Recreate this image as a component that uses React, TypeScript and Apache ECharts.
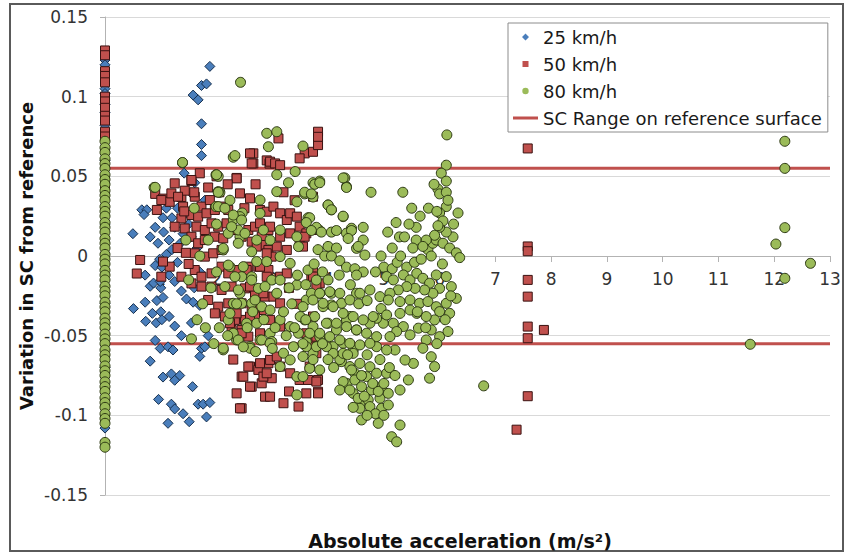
import { useEffect, useRef } from "react";
import * as echarts from "echarts";

// axis layout
const X_MIN = 0;
const X_MAX = 13;
const X_STEP = 1;
const Y_MIN = -0.15;
const Y_MAX = 0.15;
const Y_STEP = 0.05;

// SC range on the reference surface (+/-)
const scUpper = 0.055;
const scLower = -0.055;

// 25 km/h
const speed25: [number, number][] = [
  [0, 0.123], [0, 0.12], [0, 0.105], [0, 0.102], [0, 0.095], [0, 0.09], [0, 0.082], [0, 0.06],
  [0, 0.02], [0, -0.03], [0, -0.07], [0, -0.108],
  [1.88, 0.119], [1.73, 0.107], [1.82, 0.108], [1.58, 0.101], [1.67, 0.098], [1.73, 0.083],
  [1.73, 0.07], [1.73, 0.063], [1.42, 0.052], [1.61, 0.046], [1.59, 0.038], [1.79, 0.035],
  [0.66, 0.029], [0.75, 0.029], [0.7, 0.026], [1.04, 0.024], [1.3, 0.03], [1.45, 0.027],
  [1.5, 0.02], [0.5, 0.014], [0.81, 0.012], [0.9, 0.018], [0.95, 0.008], [1.05, 0.015],
  [1.15, 0.01], [1.2, 0.004], [1.1, 0.001], [1.25, 0.018], [0.98, -0.002], [1.35, 0.008],
  [1.4, 0.014], [1.3, -0.004], [0.9, -0.006], [1.02, -0.007], [0.72, -0.012], [1.15, -0.012],
  [1.25, -0.016], [0.81, -0.019], [1.0, -0.02], [0.87, -0.017], [0.99, -0.016], [1.37, -0.022],
  [1.46, -0.027], [1.58, -0.029], [1.7, -0.031], [0.51, -0.033], [0.72, -0.029], [0.93, -0.028],
  [1.04, -0.026], [0.85, -0.036], [1.0, -0.035], [1.15, -0.038], [0.73, -0.041], [0.92, -0.042],
  [1.02, -0.04], [1.25, -0.044], [1.55, -0.042], [1.37, -0.05], [0.9, -0.053], [0.99, -0.058],
  [1.13, -0.057], [1.22, -0.059], [1.73, -0.058], [1.79, -0.057], [1.7, -0.063], [0.81, -0.066],
  [1.04, -0.076], [1.19, -0.074], [1.34, -0.075], [1.25, -0.078], [1.57, -0.082], [0.96, -0.09],
  [1.19, -0.093], [1.25, -0.096], [1.4, -0.099], [1.51, -0.104], [1.13, -0.105], [1.67, -0.093],
  [1.76, -0.093], [1.88, -0.092], [1.82, -0.101], [1.6, -0.02], [1.7, -0.01], [1.65, 0.005],
  [1.55, 0.012], [1.85, -0.05], [1.2, 0.024], [1.1, 0.03],
];

// 50 km/h
const speed50: [number, number][] = [
  [0, 0.129], [0, 0.126], [0, 0.116], [0, 0.113], [0, 0.109], [0, 0.1], [0, 0.097], [0, 0.093],
  [0, 0.088], [0, 0.085], [0, 0.078], [0, 0.075], [0, 0.047], [0, 0.044],
  [0.63, -0.0025], [0.57, -0.011], [0.9, 0.039], [1.04, 0.036], [1.16, 0.034], [1.37, 0.037],
  [1.43, 0.041], [1.55, 0.047], [2.36, 0.049], [2.9, 0.06], [2.95, 0.058],
  [2.66, 0.0644], [2.66, 0.0581], [2.36, 0.0487], [1.7, 0.0519], [1.55, 0.0477], [1.25, 0.0456],
  [1.01, 0.0351], [0.93, 0.0289], [1.19, 0.0393], [1.31, 0.0372], [1.4, 0.031], [1.61, 0.0372],
  [1.73, 0.031], [1.88, 0.0351], [1.55, 0.0257], [1.67, 0.0247], [1.82, 0.0268], [1.97, 0.0289],
  [2.09, 0.031], [2.21, 0.0289], [1.37, 0.0236], [1.43, 0.0173], [1.25, 0.0184], [1.64, 0.0184],
  [1.79, 0.0163], [1.91, 0.0205], [2.03, 0.0184], [2.18, 0.0205], [2.3, 0.0163], [2.45, 0.0121],
  [2.57, 0.0163], [2.69, 0.0184], [2.81, 0.0121], [2.93, 0.0163], [1.55, 0.0121], [1.67, 0.008],
  [1.79, 0.01], [1.97, 0.0121], [2.12, 0.0111], [2.63, 0.009], [2.81, 0.0069], [2.93, 0.0038],
  [2.99, -0.0004], [1.61, 0.0017], [1.79, -0.0004], [1.94, 0.0017], [2.09, 0.0038], [1.61, -0.0088],
  [1.73, -0.013], [1.91, -0.0109], [2.09, -0.0067], [2.21, -0.0109], [2.39, -0.0088], [2.57, -0.0067],
  [2.75, -0.0067], [2.93, -0.0088], [1.37, -0.013], [1.55, -0.0172], [1.73, -0.0192], [1.91, -0.0192],
  [2.09, -0.0213], [2.27, -0.0192], [2.51, -0.0203], [2.69, -0.0234], [2.87, -0.0255], [1.85, -0.0276],
  [2.03, -0.0318], [2.21, -0.0297], [2.45, -0.0297], [2.63, -0.0318], [2.81, -0.0339], [1.97, -0.036],
  [2.15, -0.038], [2.33, -0.0401], [2.51, -0.0401], [2.69, -0.038], [2.27, -0.0464], [2.45, -0.0464],
  [2.39, -0.0516], [2.57, -0.0506], [1.01, -0.013], [1.16, -0.0067], [1.04, -0.0035], [1.3, 0.005],
  [1.45, 0.002], [1.5, -0.005], [1.42, 0.028], [1.6, 0.04], [1.85, 0.043], [2.05, 0.04],
  [2.6, 0.0644], [2.63, 0.0581], [2.96, 0.0592], [3.05, 0.0581], [3.14, 0.057], [3.11, 0.0738],
  [3.58, 0.0644], [3.73, 0.0654], [3.82, 0.0696], [3.82, 0.078], [3.82, 0.0748], [3.49, 0.0613],
  [2.42, 0.0393], [2.6, 0.0362], [2.78, 0.0289], [2.9, 0.0278], [3.02, 0.031], [3.14, 0.0268],
  [3.26, 0.0226], [3.32, 0.0268], [3.44, 0.0247], [3.49, 0.0184], [3.61, 0.0142], [3.73, 0.0163],
  [3.32, 0.0142], [3.14, 0.0121], [2.96, 0.0184], [2.78, 0.0205], [3.49, 0.008], [3.08, 0.0059],
  [3.26, 0.0038], [2.9, 0.0017], [2.72, 0.0059], [2.54, -0.0088], [2.78, -0.0067], [2.9, -0.013],
  [3.14, -0.013], [3.26, -0.0109], [2.6, -0.0192], [2.84, -0.0234], [3.02, -0.0255], [3.14, -0.0297],
  [2.72, -0.0318], [2.96, -0.0401], [3.14, -0.0443], [2.6, -0.038], [2.36, -0.036], [2.24, -0.0422],
  [2.45, -0.0485], [2.78, -0.0485], [3.73, -0.0088], [3.7, -0.013], [3.85, -0.0172], [3.73, -0.0569],
  [3.79, -0.061], [3.7, -0.0527], [3.61, -0.0485], [3.73, 0.0372], [3.58, 0.0121], [3.55, 0.0059],
  [3.73, -0.0129], [3.79, -0.0192], [3.73, -0.038], [3.79, -0.0506], [3.73, -0.0569], [3.67, -0.0694],
  [3.82, -0.0778], [3.82, -0.0852], [3.61, -0.0862], [2.2, 0.045], [2.5, 0.03], [2.35, 0.025],
  [2.0, 0.05], [3.4, 0.035], [3.2, 0.04], [2.7, 0.045], [3.3, -0.02], [3.45, -0.03],
  [2.6, -0.0694], [2.75, -0.0715], [2.93, -0.0673], [2.45, -0.0757], [2.63, -0.082], [2.81, -0.0799],
  [2.99, -0.0767], [2.36, -0.0862], [2.87, -0.0883], [2.45, -0.0956], [2.57, -0.0694], [2.48, -0.0757],
  [2.84, -0.0757], [2.78, -0.0673], [2.96, -0.0652], [3.08, -0.0631], [3.14, -0.0694], [3.32, -0.0736],
  [3.49, -0.0778], [3.64, -0.0778], [3.79, -0.0788], [2.6, -0.082], [2.96, -0.0883], [3.2, -0.0924],
  [3.47, -0.0945], [3.82, -0.0862], [2.42, -0.0956], [2.9, -0.0736], [3.3, -0.085], [2.3, -0.065],
  [7.58, 0.0675], [7.58, 0.006], [7.58, 0.003], [7.58, -0.015], [7.58, -0.0255], [7.58, -0.0443],
  [7.87, -0.0464], [7.58, -0.0516], [7.58, -0.088], [7.38, -0.109],
];

// 80 km/h
const speed80: [number, number][] = [
  [0, 0.072], [0, 0.068], [0, 0.065], [0, 0.061], [0, 0.058], [0, 0.055], [0, 0.051], [0, 0.048],
  [0, 0.045], [0, 0.041], [0, 0.038], [0, 0.035], [0, 0.031], [0, 0.028], [0, 0.025], [0, 0.021],
  [0, 0.018], [0, 0.015], [0, 0.011], [0, 0.008], [0, 0.005], [0, 0.001], [0, -0.002], [0, -0.005],
  [0, -0.009], [0, -0.012], [0, -0.015], [0, -0.019], [0, -0.022], [0, -0.025], [0, -0.029], [0, -0.032],
  [0, -0.035], [0, -0.039], [0, -0.042], [0, -0.045], [0, -0.049], [0, -0.052], [0, -0.055], [0, -0.059],
  [0, -0.062], [0, -0.065], [0, -0.069], [0, -0.072], [0, -0.075], [0, -0.079], [0, -0.082], [0, -0.085],
  [0, -0.089], [0, -0.092], [0, -0.095], [0, -0.099], [0, -0.102], [0, -0.105], [0, -0.117], [0, -0.12],
  [0.88, 0.043], [1.39, 0.0585], [2.03, 0.05], [2.3, 0.062], [2.43, 0.109], [2.9, 0.077], [3.08, 0.078],
  [2.93, 0.0686], [2.06, 0.04], [2.24, 0.035], [2.46, 0.027], [3.55, 0.069], [6.13, 0.076],
  [3.41, 0.053], [3.29, 0.046], [3.08, 0.051], [3.73, 0.046], [3.85, 0.047], [3.58, 0.039],
  [3.73, 0.037], [3.44, 0.034], [3.64, 0.024], [3.85, 0.016], [4.3, 0.049], [4.33, 0.0435],
  [4.0, 0.032], [4.06, 0.029], [4.27, 0.0247], [4.42, 0.0174], [4.51, 0.0048], [4.33, 0.0143],
  [1.99, 0.051], [2.03, 0.0404], [1.99, 0.031], [2.78, 0.0351], [3.08, 0.0404], [2.78, 0.0268],
  [2.42, 0.0247], [2.3, 0.0226], [2.42, 0.0121], [2.21, 0.0142], [2.84, 0.0163], [3.14, 0.0163],
  [2.96, 0.01], [2.72, 0.01], [3.14, -0.0004], [3.44, 0.0121], [3.47, 0.0059], [3.32, -0.0046],
  [2.9, -0.0035], [2.72, -0.0035], [2.48, -0.0067], [2.24, -0.0067], [2.12, 0.0038], [2.45, -0.013],
  [2.63, -0.013], [2.99, -0.0151], [2.75, -0.0203], [3.14, -0.0151], [3.44, -0.0182], [3.64, -0.0088],
  [3.79, -0.0151], [3.85, -0.0234], [3.61, -0.0276], [3.7, -0.0234], [3.91, -0.0318], [4.06, -0.0234],
  [4.06, -0.0307], [4.24, -0.0297], [4.39, -0.038], [4.51, -0.0234], [2.42, -0.0234], [2.15, -0.0192],
  [2.3, -0.0297], [2.63, -0.0297], [2.81, -0.0318], [2.96, -0.0339], [3.08, -0.0234], [2.72, -0.0422],
  [2.96, -0.0485], [3.14, -0.0401], [3.32, -0.0443], [3.47, -0.0485], [3.38, -0.0569], [3.2, -0.061],
  [3.61, -0.0537], [3.73, -0.0443], [3.85, -0.0506], [4.0, -0.0422], [4.15, -0.0464], [4.33, -0.0401],
  [4.51, -0.0464], [4.09, -0.0569], [4.27, -0.0548], [4.45, -0.059], [3.73, -0.061], [3.55, -0.0631],
  [3.32, -0.0652], [3.14, -0.0694], [3.44, -0.0757], [3.67, -0.0705], [2.12, -0.0589], [2.36, -0.0527],
  [2.6, -0.0569], [2.78, -0.0527], [2.99, -0.0537], [2.3, -0.0485], [2.54, -0.0422], [4.24, -0.0663],
  [4.39, -0.0694], [4.48, -0.0736], [4.33, -0.0799], [4.45, -0.0862], [4.57, -0.0924], [3.44, -0.0872],
  [1.39, 0.0587], [0.9, 0.0431], [2.0, 0.051], [2.03, 0.04], [2.03, 0.031], [2.33, 0.063],
  [2.3, 0.0257], [2.45, 0.0226], [2.39, 0.0163], [2.27, 0.0184], [2.51, 0.0142], [2.12, 0.0048],
  [2.39, 0.008], [2.63, 0.0027], [2.21, -0.0057], [2.33, -0.013], [2.63, -0.0151], [2.39, -0.0213],
  [2.87, -0.0192], [2.45, -0.0297], [2.69, -0.0276], [2.21, -0.0401], [2.39, -0.0527], [2.12, -0.0579],
  [2.6, -0.0579], [2.81, -0.0527], [2.96, -0.0548], [2.24, -0.036], [2.36, -0.03], [2.48, -0.057],
  [3.76, 0.045], [3.85, 0.046], [3.58, 0.04], [3.7, 0.039], [4.27, 0.049], [4.33, 0.043],
  [4.77, 0.04], [5.34, 0.04], [4.0, 0.032], [4.06, 0.029], [4.27, 0.025], [3.67, 0.024],
  [3.61, 0.021], [3.79, 0.018], [3.7, 0.016], [3.88, 0.015], [4.06, 0.015], [4.15, 0.016],
  [4.42, 0.016], [4.63, 0.018], [4.36, 0.011], [4.63, 0.01], [4.54, 0.006], [4.66, 0.0006],
  [5.07, 0.015], [5.22, 0.021], [5.28, 0.012], [5.37, 0.012], [5.58, 0.018], [5.58, 0.01],
  [5.52, 0.005], [3.82, 0.004], [4.0, 0.006], [4.15, 0.005], [3.94, 0.0], [4.06, 0.0],
  [4.21, -0.003], [4.33, -0.007], [4.48, -0.008], [4.63, -0.01], [4.51, -0.012], [5.0, -0.007],
  [5.15, -0.008], [5.24, -0.004], [5.41, -0.007], [5.55, -0.004], [5.67, -0.002], [5.79, 0.004],
  [5.88, 0.008], [5.94, 0.01], [6.06, 0.008], [6.18, 0.005], [6.3, 0.002], [6.36, -0.001],
  [6.24, 0.012], [6.12, 0.015], [6.0, 0.018], [5.91, 0.013], [5.76, 0.01], [5.7, 0.006],
  [6.12, 0.057], [6.03, 0.052], [6.12, 0.047], [5.97, 0.042], [6.0, 0.039], [6.12, 0.04],
  [6.33, 0.027], [6.12, 0.031], [6.0, 0.027], [6.06, 0.022], [5.97, 0.019],
  [5.05, -0.0129], [5.17, -0.015], [5.35, -0.0119], [5.47, -0.015], [5.59, -0.0109], [5.7, -0.014],
  [5.82, -0.0171], [5.94, -0.0119], [6.12, -0.0129], [6.21, -0.0192], [6.0, -0.0203], [5.88, -0.0234],
  [5.73, -0.0213], [5.56, -0.0203], [5.41, -0.0192], [5.26, -0.0213], [5.11, -0.0234], [4.93, -0.0255],
  [5.08, -0.0276], [5.29, -0.0286], [5.47, -0.0276], [5.64, -0.0297], [5.79, -0.0286], [5.94, -0.0318],
  [6.12, -0.0297], [6.3, -0.0266], [6.18, -0.036], [6.0, -0.0349], [5.91, -0.0401], [5.76, -0.038],
  [5.59, -0.036], [5.47, -0.0339], [5.29, -0.036], [5.17, -0.0422], [4.99, -0.0422], [4.87, -0.0391],
  [4.75, -0.0422], [5.35, -0.0443], [5.47, -0.0495], [5.62, -0.0453], [5.85, -0.0464], [6.0, -0.0506],
  [6.15, -0.0474], [5.76, -0.0527], [5.23, -0.0474], [5.11, -0.0506], [5.7, -0.0579], [5.85, -0.0632],
  [5.91, -0.0694], [5.82, -0.0767], [5.44, -0.0778], [5.29, -0.0841], [5.53, -0.0674], [5.38, -0.0653],
  [5.2, -0.059], [5.05, -0.059], [4.87, -0.0569], [4.21, -0.065], [4.42, -0.0715], [4.57, -0.0674],
  [4.75, -0.0695], [4.93, -0.065], [4.27, -0.0788], [4.48, -0.0778], [4.69, -0.0757], [4.87, -0.0736],
  [5.05, -0.0736], [4.21, -0.0841], [4.39, -0.0841], [4.6, -0.082], [4.78, -0.0841], [4.96, -0.082],
  [4.54, -0.0893], [4.72, -0.0903], [4.93, -0.0893], [5.08, -0.0862], [4.57, -0.0956], [4.75, -0.0945],
  [4.96, -0.0956], [5.08, -0.0935], [4.6, -0.1029], [4.9, -0.105], [5.29, -0.1061], [5.14, -0.1134],
  [5.23, -0.1166], [3.55, -0.0318], [3.73, -0.0276], [3.91, -0.0297], [4.09, -0.0318], [4.27, -0.036],
  [4.45, -0.038], [4.63, -0.0401], [4.81, -0.038], [3.58, -0.0401], [3.76, -0.038], [3.97, -0.0422],
  [4.15, -0.0422], [4.33, -0.0443], [4.51, -0.0464], [4.69, -0.0485], [4.87, -0.0506], [3.67, -0.0485],
  [3.85, -0.0485], [4.03, -0.0506], [4.21, -0.0527], [4.39, -0.0548], [4.57, -0.0558], [4.75, -0.0548],
  [4.09, -0.0611], [4.27, -0.0611], [4.45, -0.0611], [3.79, -0.0569], [3.97, -0.0569], [3.61, -0.0569],
  [3.73, -0.065], [3.85, -0.0715], [3.55, -0.0757], [4.21, -0.0234], [4.39, -0.0276], [4.57, -0.0234],
  [4.75, -0.0213], [4.03, -0.0224], [3.85, -0.0234], [3.2, -0.035], [3.35, -0.03], [3.5, -0.038],
  [3.4, -0.045], [3.6, -0.04], [3.25, -0.05], [3.55, -0.055], [3.9, -0.055], [4.0, -0.065],
  [4.1, -0.07], [4.35, -0.062], [4.6, -0.075], [4.7, -0.062], [4.8, -0.08], [4.9, -0.085],
  [5.0, -0.08], [5.1, -0.07], [5.2, -0.075], [4.65, -0.088], [4.85, -0.099], [5.0, -0.1],
  [4.45, -0.095], [4.7, -0.1], [3.3, -0.02], [3.45, -0.012], [3.6, -0.018], [3.75, -0.005],
  [3.9, -0.01], [4.0, -0.015], [4.2, -0.012], [4.4, -0.018], [4.55, -0.03], [4.7, -0.028],
  [4.95, -0.033], [5.05, -0.037], [2.0, -0.01], [1.9, -0.02], [1.75, -0.03], [1.65, -0.04],
  [1.8, -0.045], [2.05, -0.045], [2.2, -0.05], [1.95, -0.055], [2.55, -0.045], [2.65, -0.035],
  [2.85, -0.04], [3.05, -0.045], [3.0, -0.058], [2.7, -0.06], [1.55, -0.052], [1.7, 0.0],
  [1.85, 0.01], [2.0, 0.02], [2.15, 0.03], [1.6, 0.03], [1.45, 0.01], [1.5, -0.015],
  [5.5, 0.03], [5.65, 0.025], [5.8, 0.03], [5.9, 0.045], [5.45, 0.02], [5.3, 0.0],
  [5.15, 0.005], [4.95, 0.0], [4.85, -0.01], [5.6, -0.035], [5.75, -0.045], [5.95, -0.055],
  [6.1, -0.04], [6.2, -0.025], [5.85, 0.0], [6.05, -0.005], [6.25, 0.02], [6.15, 0.035],
  [5.95, 0.028], [6.79, -0.0815], [12.19, 0.072], [12.19, 0.055], [12.19, 0.0178], [12.03, 0.0075],
  [12.65, -0.0046], [12.19, -0.014], [11.57, -0.0554],
];

const SERIES_NAMES = ["25 km/h", "50 km/h", "80 km/h", "SC Range on reference surface"];
const FONT = "DejaVu Sans, Verdana, sans-serif";

// legend icons: invisible corner points keep every icon at the full 25x8 box
const PAD = "M0,0L0.01,0M25,8L24.99,8";
const LEGEND_ICONS = [
  `path://${PAD}M12.5,0.5L16,4L12.5,7.5L9,4Z`,
  `path://${PAD}M9.5,1L15.5,1L15.5,7L9.5,7Z`,
  `path://${PAD}M9.3,4A3.2,3.2 0 1 1 15.7,4A3.2,3.2 0 1 1 9.3,4Z`,
  `path://${PAD}M0,2.6L25,2.6L25,5.4L0,5.4Z`,
];

export default function App() {
  const ref = useRef<HTMLDivElement>(null);

  useEffect(() => {
    document.body.style.margin = "0";
    if (!ref.current) return;
    const chart = echarts.init(ref.current, undefined, { renderer: "svg" });

    const scLine = (y: number) => ({
      name: SERIES_NAMES[3],
      type: "line",
      data: [[X_MIN, y], [X_MAX, y]],
      symbol: "none",
      lineStyle: { color: "#c0504d", width: 3 },
      itemStyle: { color: "#c0504d" },
      z: 1,
    });

    const scatter = (name: string, data: [number, number][], symbol: string, size: number, color: string, border: string) => ({
      name,
      type: "scatter",
      data,
      symbol,
      symbolSize: size,
      itemStyle: { color, borderColor: border, borderWidth: 1, opacity: 1 },
      z: 2,
    });

    chart.setOption({
      animation: false,
      textStyle: { fontFamily: FONT },
      grid: { left: 105, right: 17, top: 17, bottom: 59, containLabel: false },
      legend: {
        data: SERIES_NAMES.map((name, i) => ({
          name,
          icon: LEGEND_ICONS[i],
          itemStyle: { borderWidth: 0 },
        })),
        orient: "vertical",
        left: 508,
        top: 23,
        backgroundColor: "#fff",
        borderColor: "#8c8c8c",
        borderWidth: 1,
        padding: [5, 6, 5, 5],
        itemWidth: 25,
        itemHeight: 8,
        itemGap: 9,
        textStyle: { fontSize: 18, lineHeight: 18, color: "#1a1a1a", fontFamily: FONT },
      },
      xAxis: {
        type: "value",
        min: X_MIN,
        max: X_MAX,
        interval: X_STEP,
        // axis crosses the value axis at 0 (grid height 478 -> 239 up from the bottom)
        offset: -239,
        axisLine: { show: true, onZero: false, lineStyle: { color: "#b3b3b3" } },
        axisTick: { show: true, length: 6, lineStyle: { color: "#b3b3b3" } },
        axisLabel: {
          margin: 14,
          fontSize: 17,
          color: "#333",
          fontFamily: FONT,
          formatter: (v: number) => (v === 0 ? "" : String(v)),
        },
        splitLine: { show: false },
      },
      yAxis: {
        type: "value",
        min: Y_MIN,
        max: Y_MAX,
        interval: Y_STEP,
        axisLine: { show: true, onZero: false, lineStyle: { color: "#b3b3b3" } },
        axisTick: { show: true, length: 5, lineStyle: { color: "#b3b3b3" } },
        axisLabel: { margin: 17, fontSize: 17, color: "#333", fontFamily: FONT },
        splitLine: { show: true, lineStyle: { color: "#d9d9d9" } },
      },
      graphic: [
        {
          type: "rect",
          shape: { x: 10, y: 4, width: 833, height: 547 },
          style: { fill: "none", stroke: "#5a5a5a", lineWidth: 2 },
          silent: true,
        },
        {
          type: "text",
          x: 26,
          y: 256,
          rotation: Math.PI / 2,
          style: {
            text: "Variation in SC from reference",
            font: `bold 18px ${FONT}`,
            fill: "#111",
            align: "center",
            verticalAlign: "middle",
          },
        },
        {
          type: "text",
          x: 460,
          y: 541,
          style: {
            text: "Absolute acceleration (m/s²)",
            font: `bold 19px ${FONT}`,
            fill: "#111",
            align: "center",
            verticalAlign: "middle",
          },
        },
      ],
      series: [
        scLine(scUpper),
        scLine(scLower),
        scatter(SERIES_NAMES[0], speed25, "diamond", 10, "#4a7ebb", "#16304f"),
        scatter(SERIES_NAMES[1], speed50, "rect", 9, "#c0504d", "#3a1211"),
        scatter(SERIES_NAMES[2], speed80, "circle", 10, "#9bbb59", "#2c3812"),
      ],
    });

    return () => chart.dispose();
  }, []);

  return <div ref={ref} style={{ width: 847, height: 554 }} />;
}
